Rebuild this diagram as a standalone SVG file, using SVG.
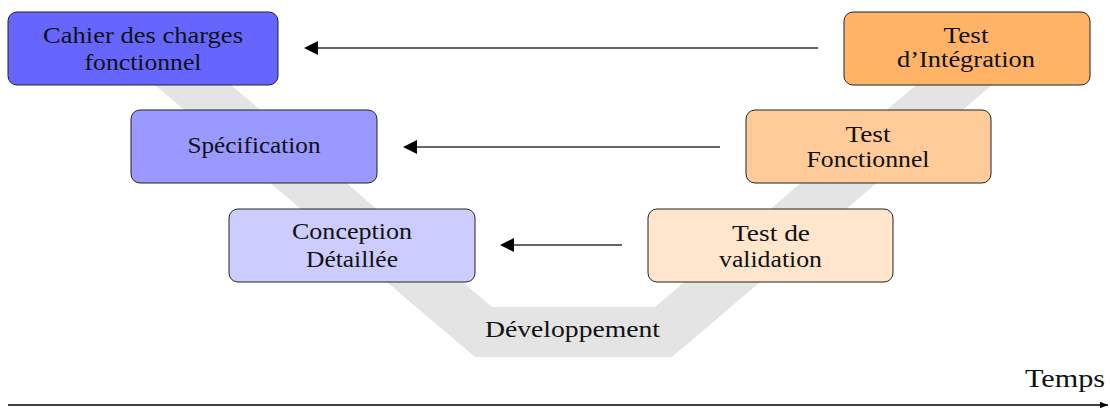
<svg xmlns="http://www.w3.org/2000/svg" width="1110" height="408" viewBox="0 0 1110 408">
<style>
.box{stroke:#222;stroke-width:1}
.t{font-family:"Liberation Serif","DejaVu Serif",serif;font-size:22.5px;fill:#111;text-anchor:middle}
.con{stroke:#333;stroke-width:1.3;fill:none}
</style>
<defs>
<marker id="ah" viewBox="0 0 10 10" refX="0" refY="5" markerWidth="14" markerHeight="14" markerUnits="userSpaceOnUse" orient="auto">
<path d="M0,0 L10,5 L0,10 z" fill="#000"/>
</marker>
<marker id="ah2" viewBox="0 0 10 10" refX="10" refY="5" markerWidth="8" markerHeight="8" markerUnits="userSpaceOnUse" orient="auto">
<path d="M0,1 L10,5 L0,9 z" fill="#000"/>
</marker>
</defs>
<polygon id="vband" points="102,40 475,357 672,357 1045,40 969,40 655,307 492,307 178,40" fill="#e4e4e4"/>
<text class="t" x="572.5" y="337" textLength="175" lengthAdjust="spacingAndGlyphs">Développement</text>
<g id="n-cahier"><rect class="box" x="8" y="12" width="270" height="73" rx="9" fill="#6666ff"/><text class="t" x="143" y="43" textLength="200" lengthAdjust="spacingAndGlyphs">Cahier des charges</text><text class="t" x="143" y="70" textLength="117" lengthAdjust="spacingAndGlyphs">fonctionnel</text></g>
<g id="n-spec"><rect class="box" x="131" y="110" width="246" height="73" rx="9" fill="#9999ff"/><text class="t" x="254" y="153" textLength="133" lengthAdjust="spacingAndGlyphs">Spécification</text></g>
<g id="n-conception"><rect class="box" x="229" y="209" width="246" height="73" rx="9" fill="#ccccff"/><text class="t" x="352" y="239" textLength="120" lengthAdjust="spacingAndGlyphs">Conception</text><text class="t" x="352" y="267" textLength="92" lengthAdjust="spacingAndGlyphs">Détaillée</text></g>
<g id="n-integration"><rect class="box" x="844" y="12" width="246" height="73" rx="9" fill="#ffb366"/><text class="t" x="966" y="43" textLength="45" lengthAdjust="spacingAndGlyphs">Test</text><text class="t" x="966" y="67" textLength="138" lengthAdjust="spacingAndGlyphs">d’Intégration</text></g>
<g id="n-fonctionnel"><rect class="box" x="746" y="110" width="245" height="73" rx="9" fill="#ffcc99"/><text class="t" x="868" y="142" textLength="45" lengthAdjust="spacingAndGlyphs">Test</text><text class="t" x="868" y="167" textLength="123" lengthAdjust="spacingAndGlyphs">Fonctionnel</text></g>
<g id="n-validation"><rect class="box" x="648" y="209" width="245" height="73" rx="9" fill="#ffe6cc"/><text class="t" x="771" y="241" textLength="78" lengthAdjust="spacingAndGlyphs">Test de</text><text class="t" x="770.5" y="267" textLength="103" lengthAdjust="spacingAndGlyphs">validation</text></g>
<g id="connectors">
<line class="con" x1="818" y1="48" x2="318" y2="48" marker-end="url(#ah)"/>
<line class="con" x1="720" y1="147" x2="417" y2="147" marker-end="url(#ah)"/>
<line class="con" x1="622" y1="245" x2="514" y2="245" marker-end="url(#ah)"/>
<line x1="8" y1="405" x2="1108" y2="405" stroke="#000" stroke-width="1.3" marker-end="url(#ah2)"/>
</g>
<text class="t" x="1065" y="387" style="font-size:25px" textLength="80" lengthAdjust="spacingAndGlyphs">Temps</text>
</svg>
